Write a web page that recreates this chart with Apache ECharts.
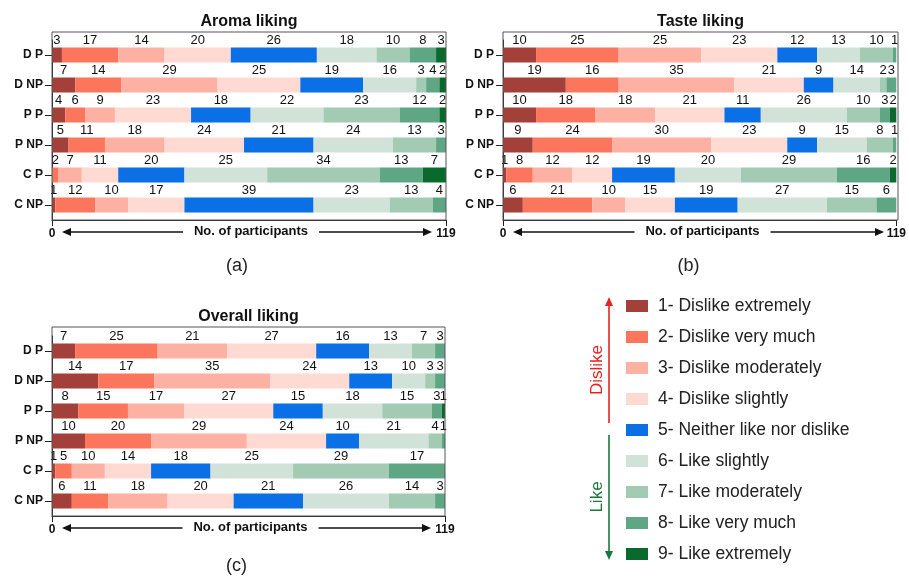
<!DOCTYPE html>
<html>
<head>
<meta charset="utf-8">
<style>
  html, body { margin: 0; padding: 0; background: #fff; }
  #chart { width: 909px; height: 576px; }
</style>
<script src="https://cdn.jsdelivr.net/npm/echarts@6.0.0/dist/echarts.min.js"></script>
</head>
<body>
<div id="chart"></div>
<script>
// rows of each panel, top to bottom
const rowNames = ['D P', 'D NP', 'P P', 'P NP', 'C P', 'C NP']

// 9-point hedonic scale
const scaleNames = [
  '1- Dislike extremely',
  '2- Dislike very much',
  '3- Dislike moderately',
  '4- Dislike slightly',
  '5- Neither like nor dislike',
  '6- Like slightly',
  '7- Like moderately',
  '8- Like very much',
  '9- Like extremely'
]
const scaleColors = ['#a3403a', '#fb765c', '#fdb1a3', '#fedad2', '#0b6fe6', '#d1e3d9', '#a3cab3', '#5fa784', '#0a6a2e']

const totalParticipants = 119

// counts per row, one value per scale point (1..9)
const aromaCounts = [
  [3, 17, 14, 20, 26, 18, 10, 8, 3],
  [7, 14, 29, 25, 19, 16, 3, 4, 2],
  [4, 6, 9, 23, 18, 22, 23, 12, 2],
  [5, 11, 18, 24, 21, 24, 13, 3, 0],
  [0, 2, 7, 11, 20, 25, 34, 13, 7],
  [1, 12, 10, 17, 39, 23, 13, 4, 0]
]
const tasteCounts = [
  [10, 25, 25, 23, 12, 13, 10, 1, 0],
  [19, 16, 35, 21, 9, 14, 2, 3, 0],
  [10, 18, 18, 21, 11, 26, 10, 3, 2],
  [9, 24, 30, 23, 9, 15, 8, 1, 0],
  [1, 8, 12, 12, 19, 20, 29, 16, 2],
  [6, 21, 10, 15, 19, 27, 15, 6, 0]
]
const overallCounts = [
  [7, 25, 21, 27, 16, 13, 7, 3, 0],
  [14, 17, 35, 24, 13, 10, 3, 3, 0],
  [8, 15, 17, 27, 15, 18, 15, 3, 1],
  [10, 20, 29, 24, 10, 21, 4, 1, 0],
  [1, 5, 10, 14, 18, 25, 29, 17, 0],
  [6, 11, 18, 20, 21, 26, 14, 3, 0]
]

const FONT = 'Arial, "Liberation Sans", Helvetica, sans-serif'

/** 三个面板的布局 */
const panels = [
  { title: 'Aroma liking', tag: '(a)', counts: aromaCounts, left: 52, top: 40, width: 394, height: 180, frameTop: 32, titleY: 22, tagY: 266 },
  { title: 'Taste liking', tag: '(b)', counts: tasteCounts, left: 503, top: 40, width: 395, height: 180, frameTop: 32, titleY: 22, tagY: 266 },
  { title: 'Overall liking', tag: '(c)', counts: overallCounts, left: 52, top: 336, width: 393, height: 180, frameTop: 327, titleY: 317, tagY: 566 }
]

const grids = []
const xAxes = []
const yAxes = []
const series = []
const graphics = []

function arrowHead(tipX, tipY, dir, color) {
  // dir: 'left' | 'right' | 'up' | 'down'
  const L = 9, W = 4
  let pts
  if (dir === 'left') pts = [[tipX, tipY], [tipX + L, tipY - W], [tipX + L, tipY + W]]
  else if (dir === 'right') pts = [[tipX, tipY], [tipX - L, tipY - W], [tipX - L, tipY + W]]
  else if (dir === 'up') pts = [[tipX, tipY], [tipX - W, tipY + L], [tipX + W, tipY + L]]
  else pts = [[tipX, tipY], [tipX - W, tipY - L], [tipX + W, tipY - L]]
  return { type: 'polygon', shape: { points: pts }, style: { fill: color }, silent: true }
}

function hLine(x1, x2, y, color) {
  return { type: 'line', shape: { x1, y1: y, x2, y2: y }, style: { stroke: color, lineWidth: 1.3 }, silent: true }
}

panels.forEach((p, i) => {
  grids.push({ left: p.left, top: p.top, width: p.width, height: p.height, containLabel: false })

  xAxes.push({
    gridIndex: i,
    type: 'value',
    min: 0,
    max: totalParticipants,
    interval: totalParticipants,
    axisLine: { show: true, lineStyle: { color: '#222', width: 1 } },
    axisTick: { show: true, length: 6, lineStyle: { color: '#222' } },
    axisLabel: { fontFamily: FONT, fontSize: 12, fontWeight: 'bold', color: '#111', margin: 8, showMinLabel: true, showMaxLabel: true },
    splitLine: { show: false }
  })

  yAxes.push({
    gridIndex: i,
    type: 'category',
    inverse: true,
    data: rowNames,
    axisLine: { show: true, lineStyle: { color: '#222', width: 1 } },
    axisTick: { show: true, alignWithLabel: true, length: 7, lineStyle: { color: '#222' } },
    axisLabel: { fontFamily: FONT, fontSize: 12, fontWeight: 'bold', color: '#111', margin: 9 }
  })

  scaleNames.forEach((name, k) => {
    series.push({
      type: 'bar',
      name,
      stack: 'panel' + i,
      xAxisIndex: i,
      yAxisIndex: i,
      barWidth: 15,
      data: p.counts.map(r => r[k]),
      itemStyle: { color: scaleColors[k] },
      label: {
        show: true,
        position: 'top',
        distance: 1,
        fontFamily: FONT,
        fontSize: 13,
        color: '#111',
        formatter: (v) => (v.value ? String(v.value) : '')
      },
      emphasis: { disabled: true }
    })
  })

  // frame around the plot
  graphics.push({
    type: 'rect',
    shape: { x: p.left, y: p.frameTop, width: p.width, height: p.top + p.height - p.frameTop },
    style: { fill: 'none', stroke: '#555', lineWidth: 1 },
    silent: true,
    z: 10
  })

  const cx = p.left + p.width / 2
  graphics.push({
    type: 'text',
    style: { text: p.title, x: cx, y: p.titleY, textAlign: 'center', textVerticalAlign: 'middle', font: 'bold 16px ' + FONT, fill: '#111' }
  })
  graphics.push({
    type: 'text',
    style: { text: p.tag, x: cx - 12, y: p.tagY, textAlign: 'center', textVerticalAlign: 'middle', font: '18px ' + FONT, fill: '#222' }
  })

  // axis title with a double arrow along the x axis
  const ay = p.top + p.height + 12
  graphics.push({
    type: 'text',
    style: { text: 'No. of participants', x: cx + 2, y: ay - 1, textAlign: 'center', textVerticalAlign: 'middle', font: 'bold 13px ' + FONT, fill: '#111' }
  })
  const lt = p.left + 10, rt = p.left + p.width - 14
  graphics.push(hLine(lt + 4, cx - 66, ay, '#111'))
  graphics.push(arrowHead(lt, ay, 'left', '#111'))
  graphics.push(hLine(cx + 70, rt - 4, ay, '#111'))
  graphics.push(arrowHead(rt, ay, 'right', '#111'))
})

// Dislike / Like arrows next to the legend
const red = '#e8231e', green = '#177a3c'
graphics.push({ type: 'line', shape: { x1: 609, y1: 303, x2: 609, y2: 423 }, style: { stroke: red, lineWidth: 1.6 }, silent: true })
graphics.push(arrowHead(609, 297, 'up', red))
graphics.push({ type: 'line', shape: { x1: 609, y1: 435, x2: 609, y2: 553 }, style: { stroke: green, lineWidth: 1.6 }, silent: true })
graphics.push(arrowHead(609, 560, 'down', green))
graphics.push({
  type: 'text', x: 597, y: 370, rotation: Math.PI / 2,
  style: { text: 'Dislike', x: 0, y: 0, textAlign: 'center', textVerticalAlign: 'middle', font: '17px ' + FONT, fill: red }
})
graphics.push({
  type: 'text', x: 597, y: 497, rotation: Math.PI / 2,
  style: { text: 'Like', x: 0, y: 0, textAlign: 'center', textVerticalAlign: 'middle', font: '17px ' + FONT, fill: green }
})

const myChart = echarts.init(document.getElementById('chart'), null, { renderer: 'canvas' })
myChart.setOption({
  backgroundColor: '#fff',
  animation: false,
  legend: {
    data: scaleNames,
    orient: 'vertical',
    left: 621,
    top: 292,
    itemWidth: 22,
    itemHeight: 12,
    itemGap: 13,
    icon: 'rect',
    selectedMode: false,
    textStyle: { fontFamily: FONT, fontSize: 17.5, color: '#222', lineHeight: 18, padding: [0, 0, 0, 5] }
  },
  grid: grids,
  xAxis: xAxes,
  yAxis: yAxes,
  series,
  graphic: { elements: graphics }
})
</script>
</body>
</html>
